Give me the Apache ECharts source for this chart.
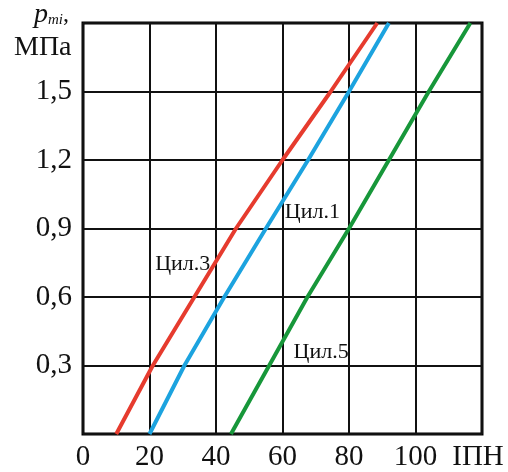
<!DOCTYPE html>
<html>
<head>
<meta charset="utf-8">
<script src="https://cdn.jsdelivr.net/npm/echarts@6/dist/echarts.min.js"></script>
<style>
  html, body { margin: 0; padding: 0; background: #fff; }
  #chart { width: 508px; height: 472px; }
</style>
</head>
<body>
<div id="chart"></div>
<script>
// Mean indicated pressure levels, MPa
const pressure = [0, 0.3, 0.6, 0.9, 1.2, 1.5, 1.8];
// ІПН value at each pressure level, per cylinder
const cyl3 = [10, 21, 33.5, 46, 60, 74.5, 88.5];
const cyl1 = [20, 30.5, 42.5, 55, 67.7, 80, 92];
const cyl5 = [44.5, 56, 67.5, 80, 92, 104, 116.5];

const xTicks = [0, 20, 40, 60, 80, 100, 120];
const xTickText = ['0', '20', '40', '60', '80', '100', 'ІПН'];
const yTicks = [0.3, 0.6, 0.9, 1.2, 1.5];

// curve captions: [name, x, y]
const captions = [
  ['Цил.1', 69, 0.97],
  ['Цил.3', 30, 0.745],
  ['Цил.5', 71.6, 0.36]
];

const serif = '"Liberation Serif", "DejaVu Serif", serif';

function pairs(xs) { return xs.map((x, i) => [x, pressure[i]]); }

function series(name, xs, color, cap) {
  return {
    name: name,
    type: 'line',
    data: pairs(xs),
    showSymbol: false,
    symbol: 'none',
    lineStyle: { color: color, width: 4 },
    z: 3,
    markPoint: {
      symbol: 'circle',
      symbolSize: 0,
      silent: true,
      data: [{
        coord: [cap[1], cap[2]],
        label: {
          show: true,
          formatter: cap[0],
          position: 'inside',
          color: '#111',
          fontFamily: serif,
          fontSize: 22
        }
      }]
    }
  };
}

const chart = echarts.init(document.getElementById('chart'), null, { renderer: 'canvas' });

chart.setOption({
  animation: false,
  backgroundColor: '#fff',
  grid: {
    left: 83, right: 26, top: 23, bottom: 37,
    show: true, borderColor: '#000', borderWidth: 3, backgroundColor: 'transparent'
  },
  xAxis: {
    type: 'value', min: 0, max: 120, interval: 20,
    axisLine: { show: false },
    axisTick: { show: false },
    splitLine: { show: true, lineStyle: { color: '#111', width: 2 } },
    axisLabel: {
      margin: 9,
      color: '#111',
      fontFamily: serif,
      fontSize: 29,
      formatter: v => {
        const i = xTicks.indexOf(v);
        if (i < 0) return '';
        return i === xTicks.length - 1 ? '{e|' + xTickText[i] + '}' : xTickText[i];
      },
      rich: {
        e: { fontFamily: serif, fontSize: 29, color: '#111', padding: [0, 8, 0, 0] }
      },
      align: 'center'
    }
  },
  yAxis: {
    type: 'value', min: 0, max: 1.8, interval: 0.3,
    axisLine: { show: false },
    axisTick: { show: false },
    splitLine: { show: true, lineStyle: { color: '#111', width: 2 } },
    axisLabel: {
      margin: 11,
      color: '#111',
      fontFamily: serif,
      fontSize: 29,
      formatter: v => {
        const r = Math.round(v * 10) / 10;
        return yTicks.some(t => Math.abs(t - r) < 1e-6) ? r.toFixed(1).replace('.', ',') : '';
      }
    }
  },
  graphic: [
    {
      type: 'text', left: 34, top: 1, z: 10,
      style: {
        text: '{p|p}{s|mi}{c|,}',
        rich: {
          p: { fontFamily: serif, fontStyle: 'italic', fontSize: 28, fill: '#111' },
          s: { fontFamily: serif, fontStyle: 'italic', fontSize: 15, fill: '#111', padding: [10, 0, 0, 0] },
          c: { fontFamily: serif, fontSize: 24, fill: '#111' }
        }
      }
    },
    {
      type: 'text', left: 14, top: 34, z: 10,
      style: { text: 'МПа', fontFamily: serif, fontSize: 28, fill: '#111' }
    }
  ],
  series: [
    series('Цил.3', cyl3, '#e63b2e', captions[1]),
    series('Цил.1', cyl1, '#1ca3df', captions[0]),
    series('Цил.5', cyl5, '#17973a', captions[2])
  ]
});
</script>
</body>
</html>
